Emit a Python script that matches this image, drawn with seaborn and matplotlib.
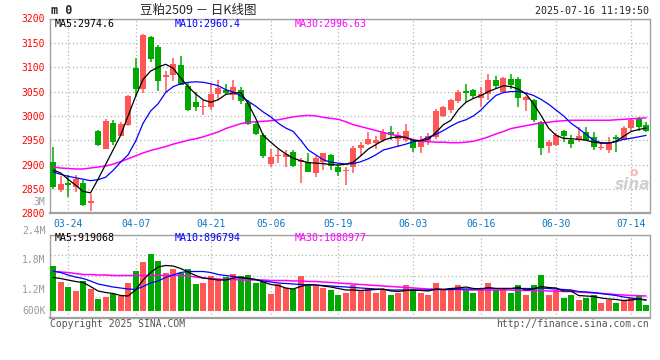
import numpy as np
import pandas as pd
import matplotlib
matplotlib.use("Agg")
import matplotlib.pyplot as plt
import seaborn as sns

# daily candles, 03-20 .. 07-16
opens = [2906, 2848, 2862, 2854, 2863, 2822, 2970, 2933, 2985, 2958,
         2982, 3098, 3056, 3162, 3142, 3079, 3085, 3105, 3061, 3028,
         3019, 3018, 3044, 3054, 3042, 3053, 3027, 2984, 2960, 2901,
         2917, 2915, 2926, 2906, 2906, 2883, 2906, 2919, 2896, 2886,
         2896, 2934, 2942, 2945, 2950, 2966, 2953, 2951, 2950, 2936,
         2949, 2957, 2999, 3013, 3030, 3051, 3053, 3036, 3044, 3074,
         3050, 3076, 3075, 3033, 3032, 2987, 2938, 2940, 2968, 2950,
         2950, 2966, 2956, 2934, 2930, 2956, 2951, 2975, 2994, 2981]
highs = [2936, 2876, 2878, 2878, 2868, 2839, 2972, 2993, 2991, 2987,
         3042, 3119, 3169, 3165, 3146, 3093, 3118, 3124, 3070, 3049,
         3033, 3066, 3074, 3066, 3074, 3060, 3032, 2989, 2965, 2933,
         2933, 2930, 2930, 2913, 2924, 2917, 2924, 2921, 2901, 2896,
         2938, 2947, 2967, 2958, 2974, 2979, 2967, 2984, 2953, 2958,
         2964, 3015, 3021, 3035, 3053, 3066, 3056, 3060, 3087, 3081,
         3079, 3087, 3079, 3040, 3035, 2989, 2950, 2964, 2972, 2960,
         2977, 2977, 2967, 2945, 2957, 2960, 2979, 2994, 2998, 2987]
lows = [2850, 2844, 2834, 2844, 2814, 2805, 2938, 2932, 2940, 2958,
        2980, 3040, 3047, 3110, 3051, 3050, 3072, 3064, 3010, 3011,
        3001, 3013, 3032, 3044, 3032, 3025, 2981, 2961, 2914, 2896,
        2904, 2896, 2896, 2863, 2885, 2874, 2889, 2889, 2877, 2858,
        2883, 2917, 2940, 2933, 2947, 2950, 2936, 2947, 2926, 2924,
        2940, 2953, 2997, 3005, 3026, 3028, 3035, 3018, 3032, 3056,
        3049, 3056, 3019, 3011, 2987, 2919, 2924, 2938, 2947, 2934,
        2947, 2950, 2930, 2930, 2924, 2926, 2950, 2970, 2970, 2967]
closes = [2853, 2860, 2858, 2870, 2818, 2825, 2940, 2989, 2947, 2983,
          3040, 3056, 3166, 3117, 3072, 3083, 3107, 3064, 3013, 3018,
          3021, 3045, 3057, 3047, 3059, 3030, 2984, 2962, 2917, 2916,
          2920, 2921, 2898, 2909, 2885, 2914, 2923, 2898, 2885, 2889,
          2934, 2940, 2952, 2950, 2967, 2960, 2960, 2968, 2935, 2948,
          2958, 3010, 3019, 3032, 3049, 3048, 3040, 3045, 3074, 3061,
          3077, 3064, 3036, 3038, 2991, 2934, 2947, 2960, 2958, 2942,
          2958, 2951, 2936, 2936, 2947, 2953, 2976, 2992, 2977, 2970]

ma5 = [2889, 2883, 2870, 2858, 2845, 2842, 2870, 2900, 2930, 2960,
       3000, 3040, 3075, 3092, 3100, 3106, 3098, 3078, 3060, 3045,
       3033, 3028, 3033, 3044, 3047, 3048, 3025, 2995, 2960, 2946,
       2933, 2922, 2913, 2908, 2904, 2903, 2902, 2900, 2899, 2901,
       2905, 2918, 2932, 2941, 2950, 2955, 2957, 2956, 2950, 2949,
       2952, 2966, 2982, 2991, 3013, 3028, 3036, 3042, 3050, 3056,
       3062, 3060, 3055, 3045, 3025, 3001, 2975, 2960, 2954, 2953,
       2952, 2950, 2946, 2944, 2944, 2948, 2958, 2968, 2972, 2975]
ma10 = [2885, 2880, 2876, 2873, 2870, 2867, 2869, 2874, 2888, 2905,
        2920, 2948, 2985, 3010, 3025, 3048, 3060, 3066, 3069, 3070,
        3069, 3066, 3062, 3054, 3049, 3041, 3030, 3020, 3008, 2998,
        2985, 2975, 2968, 2950, 2930, 2920, 2910, 2905, 2903, 2901,
        2902, 2906, 2912, 2920, 2930, 2934, 2938, 2942, 2947, 2950,
        2956, 2962, 2970, 2979, 2987, 2992, 3000, 3012, 3028, 3042,
        3048, 3050, 3050, 3047, 3042, 3034, 3024, 3012, 3000, 2985,
        2974, 2962, 2950, 2945, 2944, 2947, 2952, 2954, 2957, 2960]
ma30 = [2895, 2893, 2892, 2891, 2891, 2893, 2895, 2897, 2901, 2906,
        2912, 2918, 2924, 2929, 2933, 2937, 2942, 2946, 2950, 2953,
        2957, 2962, 2967, 2974, 2979, 2984, 2987, 2988, 2989, 2990,
        2992, 2995, 2998, 3000, 3001, 3000, 2997, 2995, 2993, 2988,
        2982, 2978, 2974, 2970, 2966, 2962, 2959, 2955, 2951, 2948,
        2947, 2946, 2946, 2945, 2945, 2946, 2948, 2952, 2957, 2963,
        2968, 2974, 2977, 2980, 2983, 2985, 2987, 2989, 2990, 2991,
        2991, 2991, 2991, 2991, 2991, 2992, 2993, 2994, 2995, 2996]

# volume in thousands
volume = [1680, 1370, 1260, 1180, 1390, 1230, 1030, 1070, 1130, 1080,
          1340, 1590, 1770, 1920, 1790, 1550, 1630, 1550, 1630, 1320,
          1350, 1480, 1430, 1470, 1520, 1490, 1500, 1350, 1360, 1130,
          1330, 1250, 1220, 1490, 1320, 1280, 1250, 1200, 1100, 1150,
          1300, 1200, 1250, 1150, 1200, 1100, 1150, 1300, 1200, 1150,
          1100, 1350, 1200, 1250, 1300, 1200, 1150, 1200, 1350, 1200,
          1250, 1150, 1300, 1100, 1300, 1500, 1100, 1200, 1050, 1100,
          1000, 1050, 1100, 950, 1000, 950, 1000, 1050, 1100, 900]
vol_ma5 = [1450, 1430, 1400, 1370, 1350, 1270, 1180, 1150, 1130, 1090,
           1080, 1200, 1400, 1550, 1660, 1690, 1680, 1630, 1560, 1490,
           1440, 1420, 1400, 1400, 1440, 1450, 1430, 1410, 1360, 1310,
           1290, 1240, 1220, 1270, 1310, 1300, 1280, 1260, 1230, 1200,
           1200, 1190, 1200, 1210, 1220, 1180, 1170, 1190, 1200, 1190,
           1180, 1220, 1210, 1230, 1240, 1260, 1230, 1220, 1250, 1230,
           1230, 1230, 1250, 1200, 1220, 1270, 1250, 1240, 1180, 1180,
           1090, 1080, 1070, 1040, 1020, 1010, 990, 1000, 1020, 1000]
vol_ma10 = [1580, 1550, 1500, 1460, 1430, 1380, 1320, 1290, 1260, 1240,
            1220, 1210, 1270, 1340, 1380, 1450, 1500, 1550, 1570, 1570,
            1570, 1550, 1510, 1490, 1470, 1450, 1430, 1410, 1380, 1360,
            1340, 1330, 1320, 1310, 1300, 1300, 1290, 1280, 1270, 1260,
            1250, 1240, 1230, 1220, 1210, 1200, 1200, 1200, 1200, 1200,
            1200, 1210, 1210, 1210, 1220, 1220, 1220, 1230, 1230, 1230,
            1230, 1230, 1230, 1230, 1230, 1240, 1230, 1220, 1210, 1200,
            1170, 1160, 1150, 1130, 1110, 1090, 1060, 1040, 1020, 1000]
vol_ma30 = [1570, 1560, 1550, 1530, 1510, 1510, 1500, 1500, 1490, 1490,
            1490, 1490, 1490, 1490, 1490, 1490, 1490, 1490, 1480, 1460,
            1440, 1430, 1420, 1410, 1410, 1400, 1400, 1400, 1400, 1390,
            1390, 1390, 1380, 1380, 1370, 1370, 1360, 1350, 1340, 1330,
            1320, 1310, 1300, 1290, 1280, 1270, 1260, 1250, 1240, 1230,
            1220, 1220, 1210, 1210, 1210, 1200, 1200, 1200, 1200, 1200,
            1200, 1200, 1190, 1190, 1190, 1190, 1180, 1180, 1170, 1170,
            1160, 1150, 1140, 1130, 1120, 1110, 1100, 1090, 1085, 1081]

tick_idx = [2, 11, 21, 29, 38, 48, 57, 67, 77]
tick_labels = ["03-24", "04-07", "04-21", "05-06", "05-19",
               "06-03", "06-16", "06-30", "07-14"]
price_ticks = [2800, 2850, 2900, 2950, 3000, 3050, 3100, 3150, 3200]
vol_labels = ["3M", "2.4M", "1.8M", "1.2M", "600K"]

df = pd.DataFrame({"open": opens, "high": highs, "low": lows, "close": closes,
                   "ma5": ma5, "ma10": ma10, "ma30": ma30,
                   "vol": np.array(volume) * 1000,
                   "vma5": np.array(vol_ma5) * 1000,
                   "vma10": np.array(vol_ma10) * 1000,
                   "vma30": np.array(vol_ma30) * 1000})
df["i"] = np.arange(len(df))
RED, GREEN = "#ff5656", "#00a800"
df["color"] = np.where(df["close"] >= df["open"], RED, GREEN)

sns.set_style("white")
plt.rcParams["font.family"] = ["DejaVu Sans Mono", "Noto Sans CJK SC"]

W, H = 660, 360
fig = plt.figure(figsize=(6.6, 3.6), dpi=100)


def px(x, y):
    return x / W, 1 - y / H


ax = fig.add_axes([50 / W, 1 - 213.3 / H, 599.5 / W, (213.3 - 18.5) / H])
axv = fig.add_axes([50 / W, 1 - 318 / H, 599.5 / W, (318 - 234.5) / H])

grid_kw = dict(color="#b4b4b4", lw=0.9, ls=(0, (1, 2)))
frame = "#a0a0a0"

# price panel
body = (df["close"] - df["open"]).abs().clip(lower=1.2)
bottom = df[["open", "close"]].min(axis=1)
ax.vlines(df["i"], df["low"], df["high"], colors=df["color"], lw=1.1, zorder=3)
ax.bar(df["i"], body, bottom=bottom, width=0.8, color=df["color"], lw=0, zorder=4)
sns.lineplot(x=df["i"], y=df["ma30"], ax=ax, color="#ff00ff", lw=1.1, zorder=5)
sns.lineplot(x=df["i"], y=df["ma10"], ax=ax, color="#0000ff", lw=0.9, zorder=5)
sns.lineplot(x=df["i"], y=df["ma5"], ax=ax, color="black", lw=0.9, zorder=6)
ax.set_xlim(-0.4, 79.45)
ax.set_ylim(2800, 3200)
ax.set_yticks(price_ticks)
ax.set_yticklabels([str(p) for p in price_ticks], color="#ff0000", fontsize=7)
ax.set_xticks(tick_idx)
ax.set_xticklabels(tick_labels, color="#0a78c8", fontsize=7)
ax.tick_params(axis="both", length=0, pad=4)
ax.set_xlabel("")
ax.set_ylabel("")
ax.grid(True, **grid_kw)
for s in ax.spines.values():
    s.set_color(frame)
    s.set_linewidth(1.0)
ax.spines["bottom"].set_linewidth(1.6)

# volume panel
vol_base = 780000
axv.bar(df["i"], df["vol"] - vol_base, bottom=vol_base, width=0.8,
        color=df["color"], lw=0, zorder=3)
sns.lineplot(x=df["i"], y=df["vma30"], ax=axv, color="#ff00ff", lw=1.1, zorder=4)
sns.lineplot(x=df["i"], y=df["vma10"], ax=axv, color="#0000ff", lw=0.9, zorder=4)
sns.lineplot(x=df["i"], y=df["vma5"], ax=axv, color="black", lw=0.9, zorder=5)
axv.set_xlim(-0.4, 79.45)
vlo, vhi = 640000, 2310000
axv.set_ylim(vlo, vhi)
axv.set_yticks(np.linspace(vlo, vhi, 5))
axv.set_yticklabels([])
axv.set_xticks(tick_idx)
axv.set_xticklabels([])
axv.tick_params(axis="both", length=0)
axv.set_xlabel("")
axv.set_ylabel("")
axv.grid(True, **grid_kw)
for s in axv.spines.values():
    s.set_color(frame)
    s.set_linewidth(1.0)
axv.spines["bottom"].set_linewidth(1.6)

# header texts
fig.text(*px(51, 11), "m 0", fontsize=8.5, fontweight="bold", va="center", ha="left")
fig.text(*px(140, 10.5), "豆粕2509 － 日K线图", fontsize=9, va="center", ha="left",
         family=["Noto Sans CJK SC", "DejaVu Sans"])
fig.text(*px(649, 11.5), "2025-07-16 11:19:50", fontsize=7.2, va="center", ha="right")

fig.text(*px(55, 23.7), "MA5:%.1f" % 2974.6, fontsize=7.2, va="center", color="black")
fig.text(*px(174.3, 23.7), "MA10:%.1f" % 2960.4, fontsize=7.2, va="center", color="#0000ff")
fig.text(*px(295, 23.7), "MA30:%.2f" % 2996.63, fontsize=7.2, va="center", color="#ff00ff")

fig.text(*px(55, 238), "MA5:919068", fontsize=7.2, va="center", color="black")
fig.text(*px(174.3, 238), "MA10:896794", fontsize=7.2, va="center", color="#0000ff")
fig.text(*px(295, 238), "MA30:1080977", fontsize=7.2, va="center", color="#ff00ff")

for lab, yy in zip(vol_labels, [201.7, 231, 260, 290, 311]):
    fig.text(*px(45.5, yy), lab, fontsize=7, va="center", ha="right", color="#999999")

fig.text(*px(50, 324), "Copyright 2025 SINA.COM", fontsize=7, va="center", color="#555555")
fig.text(*px(649, 324), "http://finance.sina.com.cn", fontsize=7, va="center",
         ha="right", color="#555555")

# watermark
fig.text(*px(633, 185), "sina", fontsize=11, fontstyle="italic", fontweight="bold",
         va="center", ha="center", color="#d0d0d0", family="DejaVu Sans")
fig.text(*px(634, 172), "o", fontsize=9, fontweight="bold", va="center", ha="center",
         color="#f4b8b8", family="DejaVu Sans")

fig.savefig("out.png", dpi=100)
